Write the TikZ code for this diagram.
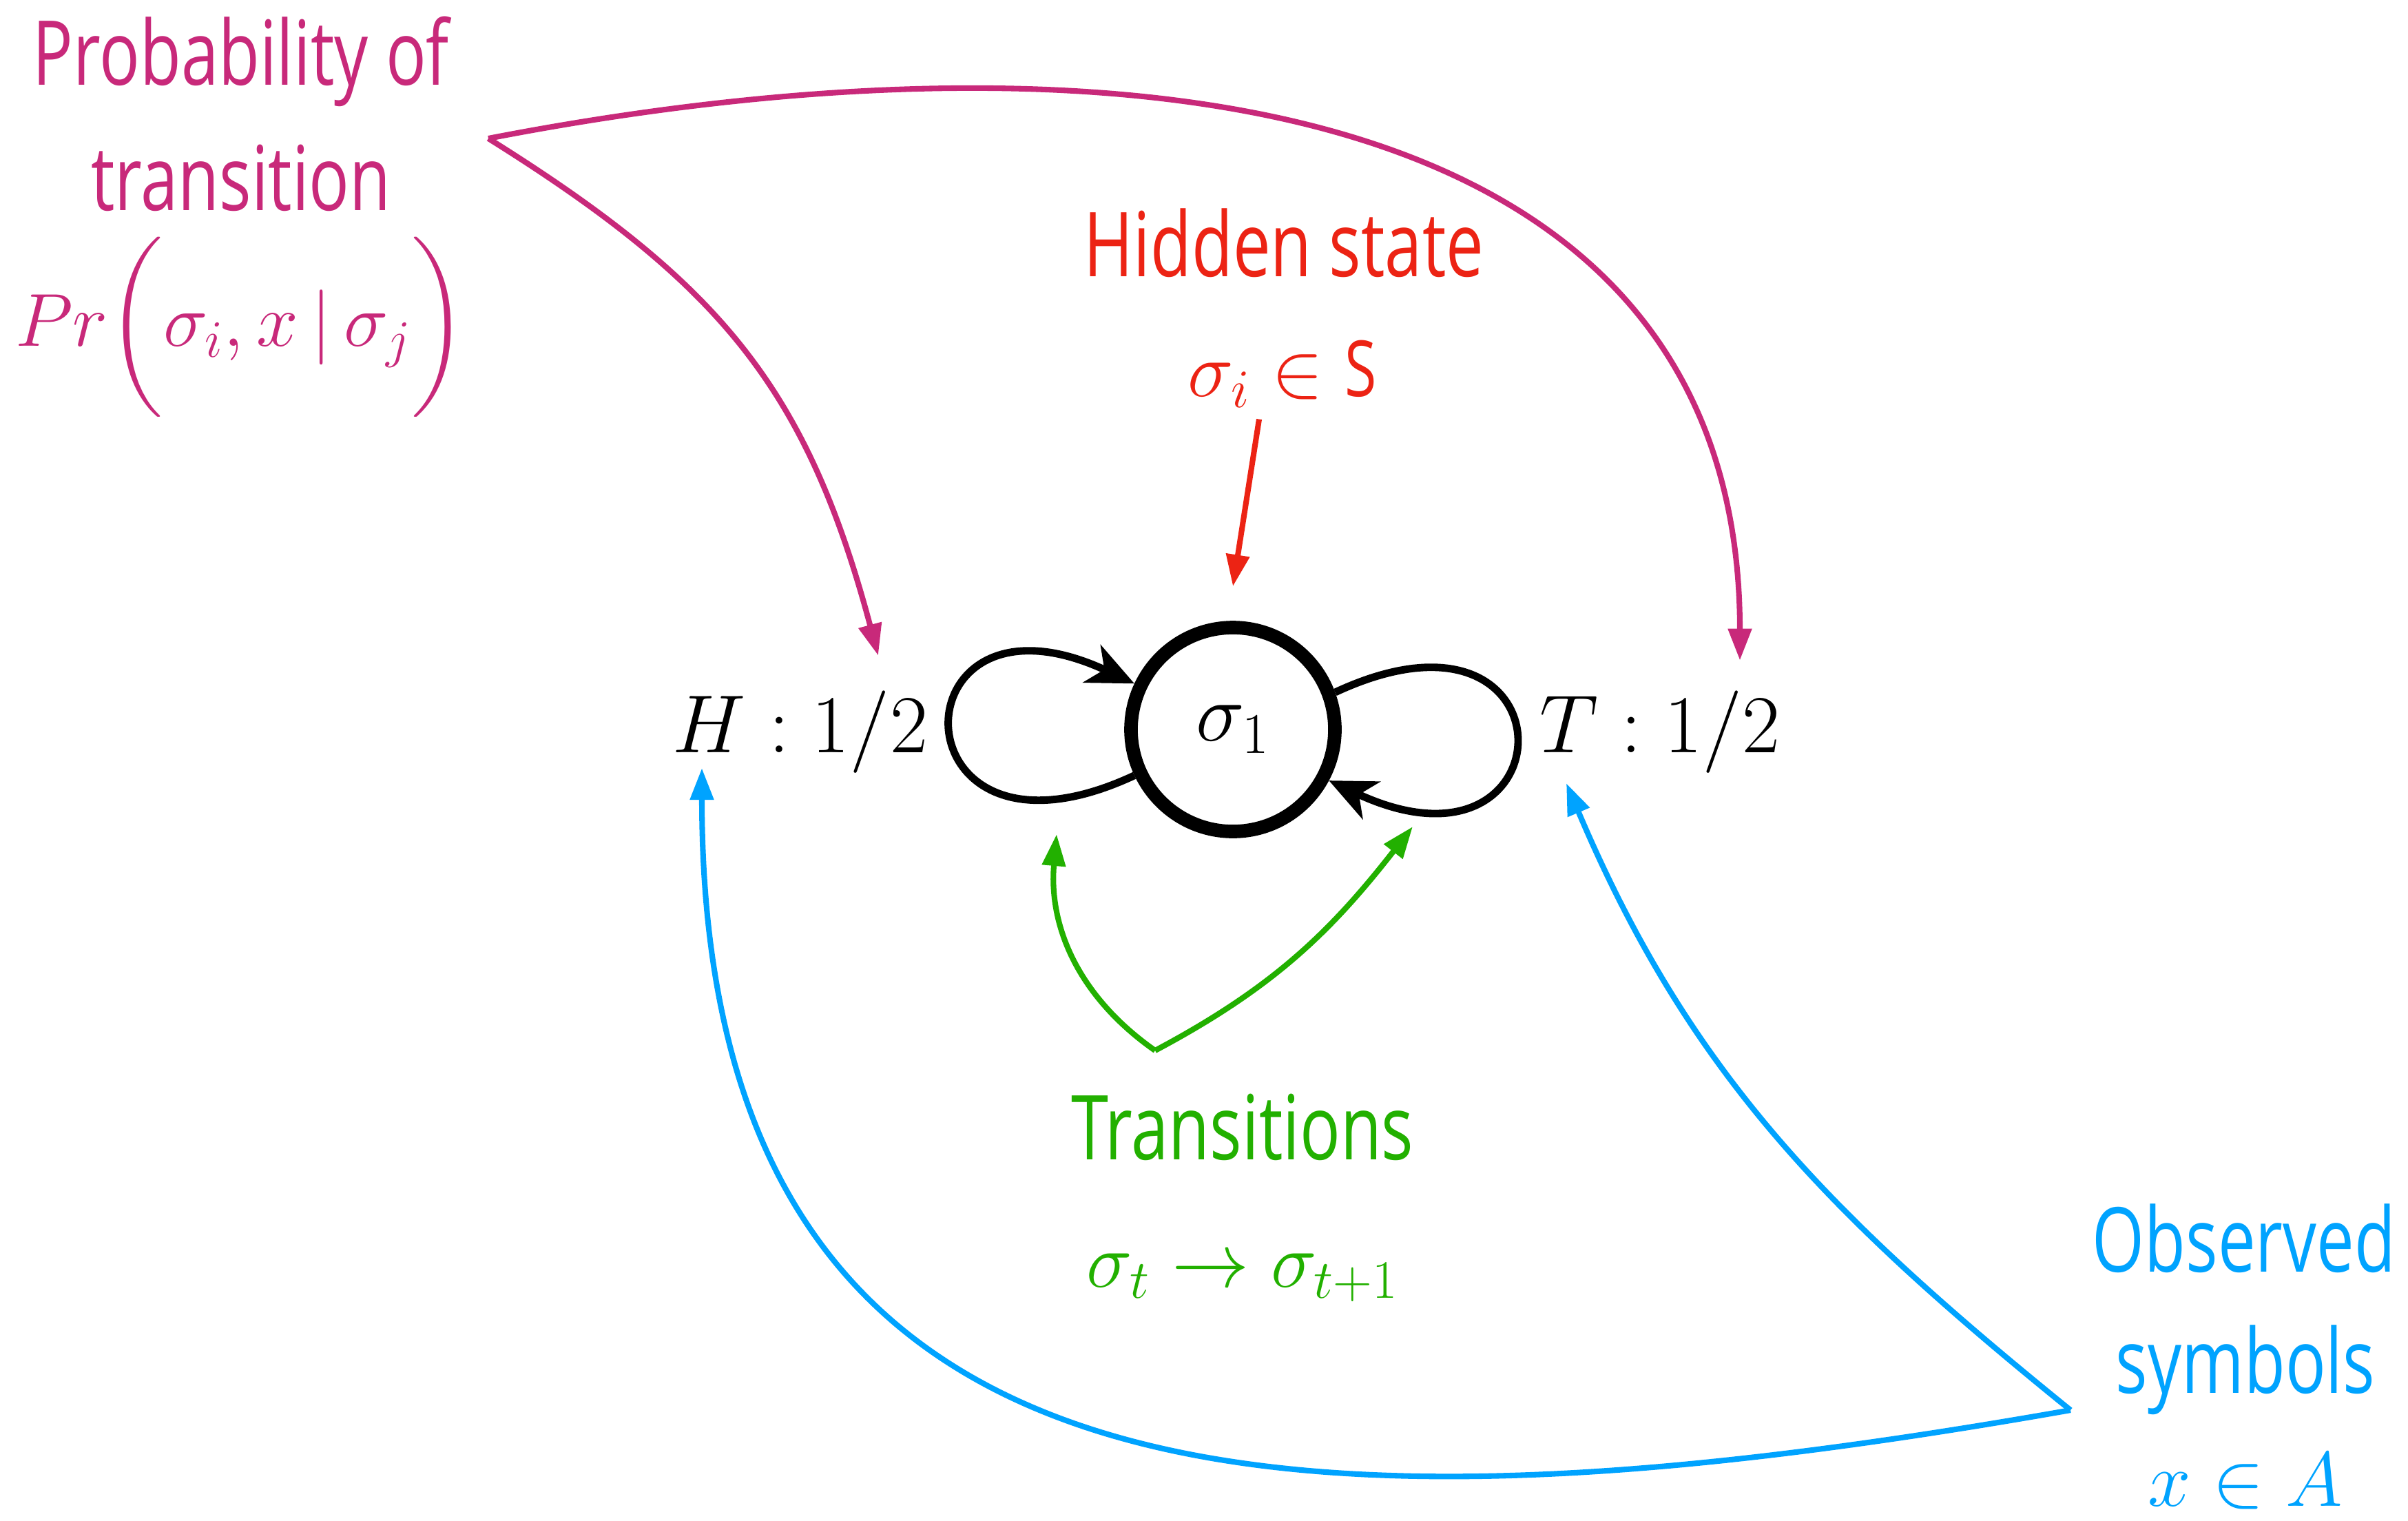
\RequirePackage{fix-cm}
\documentclass[tikz,border=0pt]{standalone}
\usepackage{amsmath,amssymb}
\usepackage[no-math]{fontspec}
\setmainfont{Open Sans}[FakeStretch=0.75]
\usepackage{xcolor}
\usepackage{tikz}
\usetikzlibrary{positioning,arrows.meta,calc}

\definecolor{probpink}{RGB}{200,41,122}
\definecolor{hidred}{RGB}{236,35,20}
\definecolor{trgreen}{RGB}{34,176,0}
\definecolor{obsblue}{RGB}{0,163,255}

\begin{document}
\begin{tikzpicture}[>=Stealth, every node/.style={inner sep=0pt, align=center},
    lbl/.style={anchor=base, font=\fontsize{37}{44}\selectfont},
    mth/.style={anchor=base, font=\fontsize{32}{40}\selectfont},
    blk/.style={anchor=base, font=\fontsize{34}{40}\selectfont},
    tip/.style={-{Triangle[length=4.6mm,width=3.3mm]}, line width=2.3pt},
    selfloop/.style={-{Stealth[length=6.8mm,width=6mm,inset=2mm]}, line width=3.1pt}]
  \useasboundingbox (0,0) rectangle (34.96,-22.07);

  % the state and its two emissions
  \node[draw, circle, line width=5.6pt, minimum size=2.96cm, outer sep=2.8pt,
        font=\fontsize{34}{40}\selectfont] (s1) at (17.90,-10.59) {$\sigma_1$};
  \node[blk] (hl) at (11.62,-10.92) {$H:1/2$};
  \node[blk] (tl) at (24.10,-10.92) {$T:1/2$};

  \draw[selfloop] (s1.205) .. controls +(205:3.9) and +(155:3.9) .. (s1.155);
  \draw[selfloop] (s1.20) .. controls +(25:3.9) and +(-25:3.9) .. (s1.-28);

  % hidden state
  \node[lbl, text=hidred] (hid) at (18.64,-4.01) {Hidden state};
  \node[mth, text=hidred] (hsym) at (18.62,-5.75) {$\sigma_i \in \textnormal{S}$};
  \draw[tip, hidred] ([xshift=-3.4mm,yshift=-1.6mm]hsym.south) -- ([yshift=5mm]s1.north);

  % transition probability
  \node[lbl, text=probpink] (prob) at (3.50,-1.23) {Probability of};
  \node[lbl, text=probpink] (prob2) at (3.50,-3.05) {transition};
  \node[mth, text=probpink, font=\fontsize{31}{36}\selectfont] (probeq) at (3.50,-5.02)
      {$Pr\bigg(\sigma_i, x\,|\,\sigma_j\bigg)$};
  \coordinate (pfork) at (7.09,-2.01);
  \draw[tip, probpink] (pfork) .. controls +(-32:4) and +(105:4)
      .. ([xshift=11.3mm,yshift=5mm]hl.north);
  \draw[tip, probpink] (pfork) .. controls +(11:8.6) and +(90:8.6)
      .. ([xshift=11.6mm,yshift=4.3mm]tl.north);

  % transitions
  \node[lbl, text=trgreen] (trans) at (18.04,-16.83) {Transitions};
  \node[mth, text=trgreen] (treq) at (18.04,-18.68) {$\sigma_t\to\sigma_{t+1}$};
  \coordinate (gfork) at (16.77,-15.25);
  \draw[tip, trgreen] (gfork) to[out=145,in=-95] ([shift={(-2.56,-1.52)}]s1.center);
  \draw[tip, trgreen] (gfork) to[out=28,in=-128] ([shift={(2.61,-1.41)}]s1.center);

  % observed symbols
  \node[lbl, text=obsblue] (obs) at (32.58,-18.46) {Observed};
  \node[lbl, text=obsblue] (obs2) at (32.60,-20.22) {symbols};
  \node[mth, text=obsblue] (obseq) at (32.60,-21.86) {$x\in A$};
  \coordinate (bfork) at (30.06,-20.47);
  \draw[tip, obsblue] (bfork) .. controls +(190:12) and +(-90:10.8)
      .. ([xshift=-14.3mm,yshift=-2.3mm]hl.base);
  \draw[tip, obsblue] (bfork) to[out=141,in=-67]
      ([xshift=-13.6mm,yshift=-4.5mm]tl.base);
\end{tikzpicture}
\end{document}
